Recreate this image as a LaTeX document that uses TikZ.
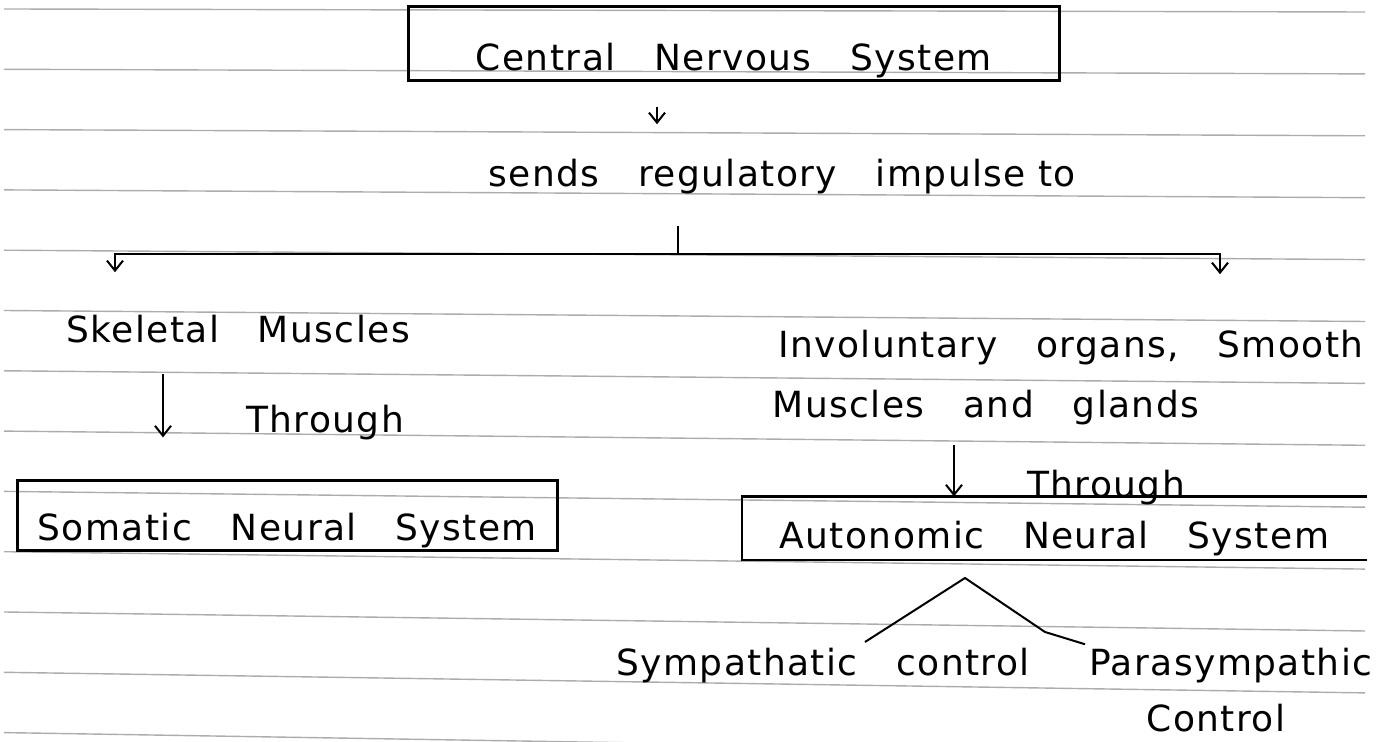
\documentclass[tikz,border=0pt]{standalone}
\usepackage{fontspec}
\setmainfont{DejaVu Sans}[LetterSpace=4,WordSpace=3]
\usetikzlibrary{arrows.meta}

\tikzset{
  ruling/.style={draw=gray!65, line width=0.7pt},
  ink/.style={line width=1pt},
  boxline/.style={line width=1.3pt},
  inkbox/.style={draw, boxline, anchor=south west, inner xsep=0pt, inner ysep=1pt, text depth=4pt},
  note/.style={anchor=base, inner sep=2pt},
}

\begin{document}
\begin{tikzpicture}[x=0.5pt, y=-0.5pt, font=\fontsize{18}{21}\selectfont, >={Straight Barb[length=5pt,width=8pt]}]
\useasboundingbox (0,0) rectangle (1378,742);
% ruled paper
\foreach \k in {0,...,12}
  \draw[ruling] (4,{9+60.3*\k}) -- (1365,{12+61.9*\k});

% nodes
\node[inkbox, minimum width=325.5pt, text height=31pt] (cns) at (407,82) {Central Nervous System};
\node[note] (sends) at (782,187) {sends regulatory impulse\hspace{6pt}to};
\node[note] (skel) at (238,343) {Skeletal Muscles};
\node[note] (thr1) at (325,433) {Through};
\node[inkbox, minimum width=270pt, text height=29pt] (soma) at (16,552) {Somatic Neural System};
\node[note, anchor=base east] (invol1) at (1368,358) {Involuntary organs, Smooth};
\node[note] (invol2) at (986,418) {Muscles and glands};
\node[note] (thr2) at (1106,498) {Through};
\node[inkbox, draw=none, minimum width=311pt, text height=24.5pt] (auto) at (742,560) {Autonomic Neural System};
\node[note] (symp) at (823,676) {Sympathatic control};
\node[note, anchor=base west] (para) at (1085,676) {Parasympathic};
\node[note] (ctrl) at (1216,732) {Control};

% helper points
\coordinate (a1x) at (657,0);
\coordinate (hub) at (678,254);
\coordinate (lx) at (115,0);
\coordinate (rx) at (1220,0);
\coordinate (la) at (163,0);
\coordinate (ra) at (954,0);
\coordinate (fork) at (965,578);
\coordinate (sympend) at (865,642);
\coordinate (kink) at (1045,632);

% connectors
\draw[ink,->,shorten <=12.5pt,shorten >=15.5pt] (cns.south -| a1x) -- (sends.north -| a1x);
\draw[ink,shorten <=13.5pt] (sends.south -| hub) -- (hub);
\draw[ink,->,shorten >=19.5pt] (hub) -| (skel.north -| lx);
\draw[ink,->,shorten >=26pt] (hub) -| (invol1.north -| rx);
\draw[ink,->,shorten <=13pt,shorten >=21pt] (skel.south -| la) -- (soma.north -| la);
\draw[ink,->,shorten <=7.5pt] (invol2.south -| ra) -- (auto.north -| ra);
\draw[boxline] (auto.north east) -- (auto.north west) -- (auto.south west) -- (auto.south east);
\draw[ink] (sympend) -- (fork) -- (kink) -- (para.north west);
\end{tikzpicture}
\end{document}
